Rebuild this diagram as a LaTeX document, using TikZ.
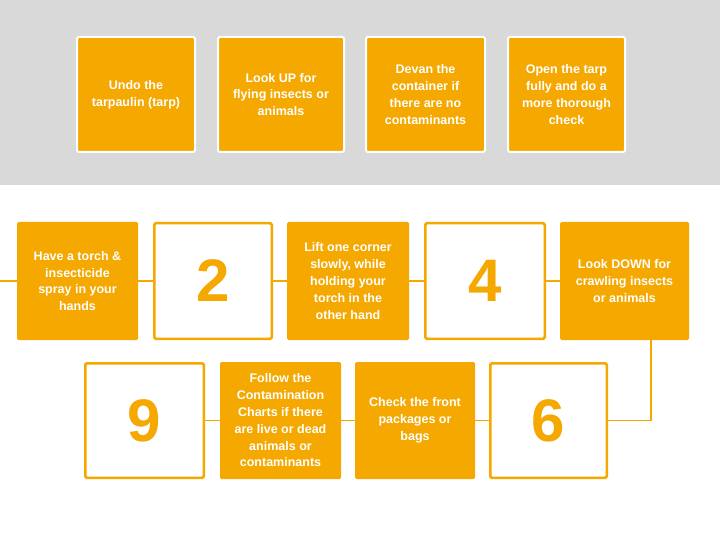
\documentclass[tikz,border=0pt]{standalone}
\usepackage{fontspec}
\setmainfont{Liberation Sans}
\definecolor{org}{HTML}{F4A800}
\definecolor{band}{HTML}{D9D9D9}
\tikzset{
  fillbox/.style={fill=org, rounded corners=1.5pt, text=white, align=center,
    font=\fontsize{12.5}{16.8}\selectfont\bfseries, inner sep=2pt},
  topbox/.style={fillbox, draw=white, line width=2pt},
  numbox/.style={fill=white, draw=org, line width=2.5pt, rounded corners=1.5pt,
    text=org, font=\fontsize{60}{62}\selectfont\bfseries},
  conn/.style={draw=org, line width=1.2pt}
}
\begin{document}
\begin{tikzpicture}[x=1pt,y=-1pt]
\useasboundingbox (0,0) rectangle (720,540);
\fill[white] (0,0) rectangle (720,540);
\fill[band] (0,0) rectangle (720,185);
% top row
\node[topbox, minimum width=118, minimum height=115] (t1) at (136,94.5) {Undo the\\tarpaulin (tarp)};
\node[topbox, minimum width=126, minimum height=115] (t2) at (281,94.5) {Look UP for\\flying insects or\\animals};
\node[topbox, minimum width=119, minimum height=115] (t3) at (425.5,94.5) {Devan the\\container if\\there are no\\contaminants};
\node[topbox, minimum width=117, minimum height=115] (t4) at (566.5,94.5) {Open the tarp\\fully and do a\\more thorough\\check};
% middle row
\node[fillbox, minimum width=121, minimum height=118] (a) at (77.5,281) {Have a torch \&\\insecticide\\spray in your\\hands};
\node[numbox, minimum width=117.5, minimum height=115.5] (b) at (213,281) {2};
\node[fillbox, minimum width=122, minimum height=118] (c) at (348,281) {Lift one corner\\slowly, while\\holding your\\torch in the\\other hand};
\node[numbox, minimum width=119.5, minimum height=115.5] (d) at (485,281) {4};
\node[fillbox, minimum width=129, minimum height=118] (e) at (624.5,281) {Look DOWN for\\crawling insects\\or animals};
% bottom row
\node[numbox, minimum width=118.5, minimum height=114.5] (n9) at (144.5,420.5) {9};
\node[fillbox, minimum width=121, minimum height=117] (f) at (280.5,420.5) {Follow the\\Contamination\\Charts if there\\are live or dead\\animals or\\contaminants};
\node[fillbox, minimum width=120, minimum height=117] (g) at (415,420.5) {Check the front\\packages or\\bags};
\node[numbox, minimum width=116.5, minimum height=114.5] (n6) at (548.5,420.5) {6};
% connectors
\coordinate (start) at (0,281);
\coordinate (bend) at (651,420.5);
\draw[conn] (start) -- (a);
\draw[conn] (a) -- (b);
\draw[conn] (b) -- (c);
\draw[conn] (c) -- (d);
\draw[conn] (d) -- (e);
\draw[conn] (e.south -| bend) -- (bend) -- (n6);
\draw[conn] (n6) -- (g);
\draw[conn] (g) -- (f);
\draw[conn] (f) -- (n9);
\end{tikzpicture}
\end{document}
